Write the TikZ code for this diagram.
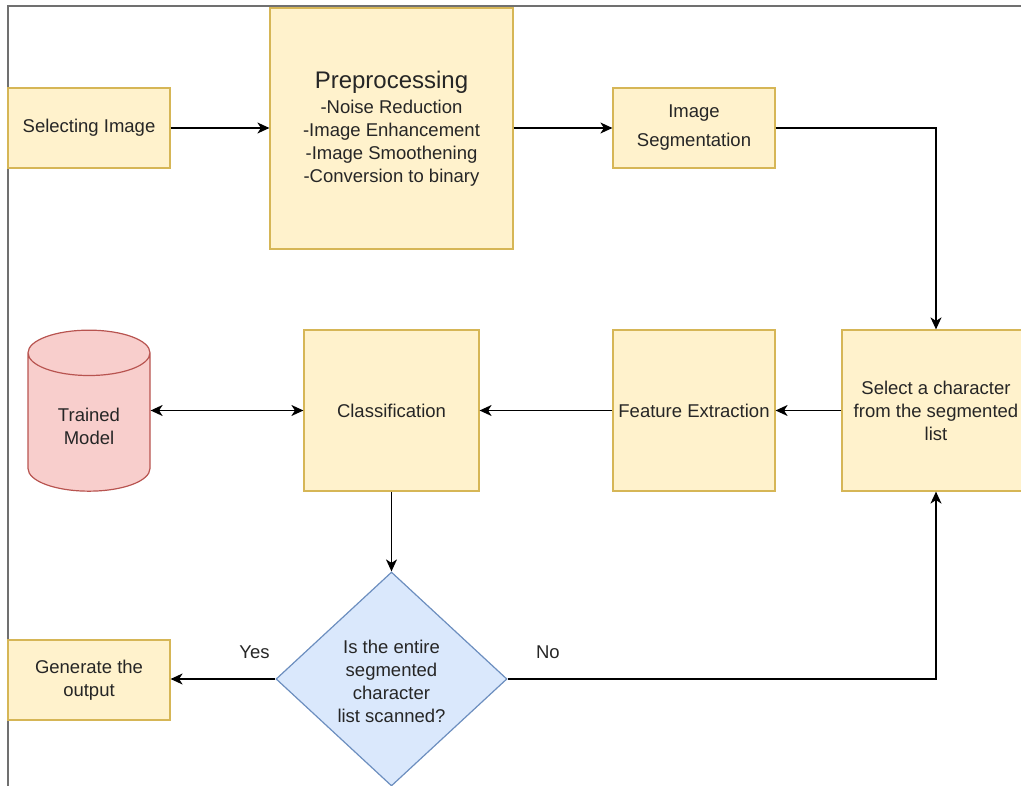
\documentclass[tikz,border=0pt]{standalone}
\usepackage{fontspec}
\setmainfont{Liberation Sans}
\usetikzlibrary{arrows.meta, shapes.geometric}

\definecolor{boxfill}{HTML}{FFF2CC}
\definecolor{boxline}{HTML}{D6B656}
\definecolor{dbfill}{HTML}{F8CECC}
\definecolor{dbline}{HTML}{B85450}
\definecolor{qfill}{HTML}{DAE8FC}
\definecolor{qline}{HTML}{6C8EBF}
\definecolor{txt}{HTML}{262626}
\definecolor{framegray}{HTML}{707070}

\begin{document}
\begin{tikzpicture}[x=1pt, y=-1pt,
  lbl/.style={text=txt, align=center, font=\fontsize{18.5}{23}\selectfont},
  box/.style={lbl, draw=boxline, fill=boxfill, line width=1.2pt, inner sep=0pt},
  arr/.style={-{Stealth[length=12pt, width=11pt, inset=3.5pt]}, line width=1.4pt}
]

\useasboundingbox (0,0) rectangle (1021,786);

% outer frame
\draw[framegray, line width=2pt] (8,786) -- (8,6) -- (1021,6);

\node[box, minimum width=162, minimum height=80]  (sel) at (89,128)    {Selecting Image};
\node[box, minimum width=243, minimum height=241] (pre) at (391.5,128.5)
  {{\fontsize{24}{26}\selectfont Preprocessing}\\[2pt]-Noise Reduction\\-Image Enhancement\\-Image Smoothening\\-Conversion to binary};
\node[box, minimum width=162, minimum height=80]  (seg) at (694,128)   {Image\\[6pt]Segmentation};
\node[box, minimum width=188, minimum height=161] (chr) at (936,410.5) {Select a character\\from the segmented\\list};
\node[box, minimum width=162, minimum height=161] (fe)  at (694,410.5) {Feature Extraction};
\node[box, minimum width=175, minimum height=161] (cls) at (391.5,410.5) {Classification};
\node[cylinder, shape border rotate=90, aspect=0.66, draw=dbline, fill=dbfill, line width=1.2pt,
      minimum width=122, minimum height=161, lbl] (db) at (89,426) {Trained\\Model};
\node[diamond, draw=qline, fill=qfill, line width=1.2pt, inner sep=0pt,
      minimum width=231, minimum height=214,
      label={[lbl, yshift=-2pt]center:Is the entire\\segmented\\character\\list scanned?}] (q) at (391.5,679) {};
\node[box, minimum width=162, minimum height=80]  (out) at (89,680)    {Generate the\\output};

\draw[arr] (sel) -- (sel -| pre.west);
\draw[arr] (pre.east |- seg.west) -- (seg);
\draw[arr] (seg) -| (chr);
\draw[arr] (chr) -- (fe);
\draw[arr] (fe) -- (cls);
\draw[line width=1.4pt, {Stealth[length=12pt, width=11pt, inset=3.5pt]}-{Stealth[length=12pt, width=11pt, inset=3.5pt]}]
  (cls.west -| db.east) -- (cls.west);
\draw[arr] (cls) -- (q);
\draw[arr] (q.west) -- node[lbl, pos=0.2, above=16pt] {Yes} (out.east |- q.west);
\draw[arr] (q.east) -| node[lbl, pos=0.047, above=16pt] {No} (chr.south);

\end{tikzpicture}
\end{document}
